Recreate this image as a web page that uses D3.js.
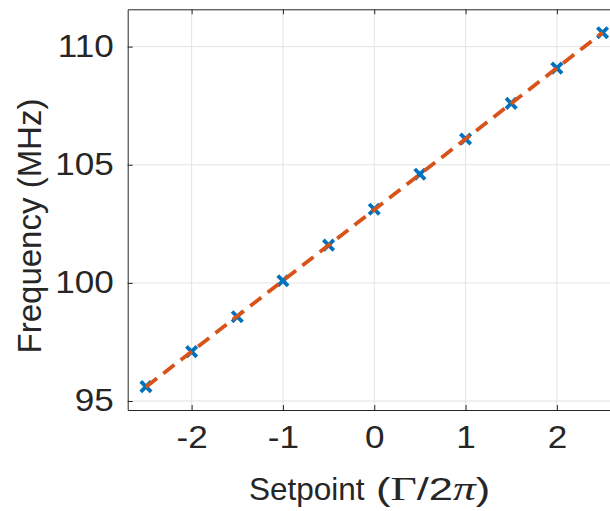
<!DOCTYPE html>
<html>
<head>
<meta charset="utf-8">
<script src="https://cdn.jsdelivr.net/npm/d3@7"></script>
<style>
  html, body { margin: 0; padding: 0; background: #fff; }
  svg { display: block; }
  text { font-family: "Liberation Sans", Arial, Helvetica, sans-serif; fill: #262626; }
</style>
</head>
<body>
<svg id="chart" width="610" height="511"></svg>
<script>
// Measured setpoints and resulting frequencies
const setpoints = [-2.5, -2, -1.5, -1, -0.5, 0, 0.5, 1, 1.5, 2, 2.5];
const frequencies = [95.61, 97.09, 98.57, 100.09, 101.60, 103.12, 104.60, 106.09, 107.60, 109.09, 110.59];

const xTicks = [-2, -1, 0, 1, 2];
const yTicks = [95, 100, 105, 110];
const xDomain = [-2.7, 2.7];
const yDomain = [94.62, 111.58];

const svg = d3.select("#chart");
const W = 610, H = 511;
const margin = { left: 127.7, top: 9.3, bottom: 101, right: -10.8 };
const plotRight = W - margin.right;
const plotBottom = H - margin.bottom;

const x = d3.scaleLinear().domain(xDomain).range([margin.left, plotRight]);
const y = d3.scaleLinear().domain(yDomain).range([plotBottom, margin.top]);

const axisColor = "#262626";
const gridColor = "#e3e3e3";

// Grid lines
const grid = svg.append("g");
grid.selectAll("line.gx").data(xTicks).join("line")
  .attr("x1", d => x(d)).attr("x2", d => x(d))
  .attr("y1", margin.top).attr("y2", plotBottom)
  .attr("stroke", gridColor).attr("stroke-width", 1);
grid.selectAll("line.gy").data(yTicks).join("line")
  .attr("y1", d => y(d)).attr("y2", d => y(d))
  .attr("x1", margin.left).attr("x2", plotRight)
  .attr("stroke", gridColor).attr("stroke-width", 1);

// Axes (ticks pointing inward); tick numerals use a slightly wide face
const tickLen = 5;
const fontSize = 30.5;
const widen = 1.15;
const xAxis = d3.axisBottom(x).tickValues(xTicks).tickSizeInner(-tickLen).tickSizeOuter(0)
  .tickPadding(16).tickFormat(d => d < 0 ? "-" + Math.abs(d) : String(d));
const gx = svg.append("g").attr("transform", `translate(0,${plotBottom})`).call(xAxis);
gx.select(".domain").attr("stroke", axisColor);
gx.selectAll(".tick line").attr("stroke", axisColor);
gx.selectAll(".tick text").attr("font-size", fontSize).attr("fill", axisColor)
  .attr("font-family", "Liberation Sans, Arial, sans-serif")
  .attr("transform", `scale(${widen},1)`);

const xTop = d3.axisTop(x).tickValues(xTicks).tickSizeInner(-tickLen).tickSizeOuter(0).tickFormat("");
const gxt = svg.append("g").attr("transform", `translate(0,${margin.top})`).call(xTop);
gxt.select(".domain").attr("stroke", axisColor);
gxt.selectAll(".tick line").attr("stroke", axisColor);

const yAxis = d3.axisLeft(y).tickValues(yTicks).tickSizeInner(-tickLen).tickSizeOuter(0)
  .tickPadding(14);
const gy = svg.append("g").attr("transform", `translate(${margin.left},0)`).call(yAxis);
gy.select(".domain").attr("stroke", axisColor);
gy.selectAll(".tick line").attr("stroke", axisColor);
gy.selectAll(".tick text").attr("font-size", fontSize).attr("fill", axisColor)
  .attr("font-family", "Liberation Sans, Arial, sans-serif")
  .attr("x", -14 / widen)
  .attr("transform", `scale(${widen},1)`);

// Least-squares linear fit through the measurements
const n = setpoints.length;
const mx = d3.mean(setpoints), my = d3.mean(frequencies);
let sxy = 0, sxx = 0;
for (let i = 0; i < n; i++) {
  sxy += (setpoints[i] - mx) * (frequencies[i] - my);
  sxx += (setpoints[i] - mx) ** 2;
}
const slope = sxy / sxx, intercept = my - slope * mx;
const fitX = d3.extent(setpoints);
const fitPts = fitX.map(v => [v, intercept + slope * v]);

// Data markers (x)
const r = 5.2;
const markers = svg.append("g").attr("stroke", "#0072BD").attr("stroke-width", 3.8);
setpoints.forEach((sx, i) => {
  const cx = x(sx), cy = y(frequencies[i]);
  markers.append("line").attr("x1", cx - r).attr("y1", cy - r).attr("x2", cx + r).attr("y2", cy + r);
  markers.append("line").attr("x1", cx - r).attr("y1", cy + r).attr("x2", cx + r).attr("y2", cy - r);
});

// Fit line (dashed)
svg.append("path")
  .datum(fitPts)
  .attr("d", d3.line().x(d => x(d[0])).y(d => y(d[1])))
  .attr("fill", "none")
  .attr("stroke", "#D95319")
  .attr("stroke-width", 3.8)
  .attr("stroke-dasharray", "14,8");

// Axis labels
const serif = "Liberation Serif, Times New Roman, serif";
svg.append("text")
  .attr("x", 249).attr("y", 500)
  .attr("font-size", 31.5)
  .text("Setpoint");

// Unit in TeX style: (Γ/2π)
const unit = svg.append("text")
  .attr("transform", "translate(376,500) scale(1.38,1)")
  .attr("font-size", 31.5);
unit.append("tspan").text("(");
unit.append("tspan").attr("font-family", serif).attr("font-size", 33).text("Γ");
unit.append("tspan").text("/2");
unit.append("tspan").attr("font-family", serif).attr("font-style", "italic").attr("font-size", 33).text("π");
unit.append("tspan").text(")");

svg.append("text")
  .attr("transform", `translate(41,226) rotate(-90)`)
  .attr("text-anchor", "middle")
  .attr("font-size", 33)
  .text("Frequency (MHz)");
</script>
</body>
</html>
